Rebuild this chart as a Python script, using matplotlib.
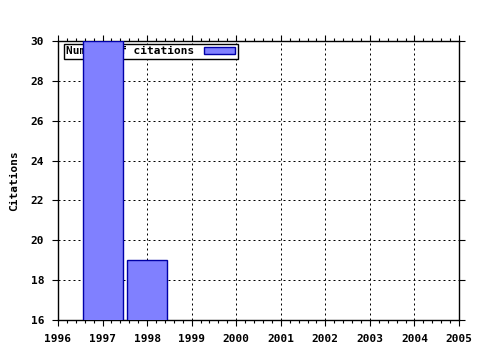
import matplotlib
matplotlib.use("Agg")
import matplotlib.pyplot as plt
from matplotlib.ticker import MultipleLocator

# chart data
years = [1997, 1998]
citations = [30, 19]
series_label = "Number of citations"
x_range = (1996, 2005)
y_range = (16, 30)
y_label = "Citations"

bar_fill = "#8080ff"
bar_edge = "#0000a8"

plt.rcParams["font.family"] = ["DejaVu Sans Mono"]
plt.rcParams["font.weight"] = "bold"
plt.rcParams["font.size"] = 8

fig = plt.figure(figsize=(4.8, 3.5), dpi=100)
ax = fig.add_axes([58 / 480, 1 - 320 / 350, (459 - 58) / 480, (320 - 41) / 350])

ax.bar(years, citations, width=0.9, color=bar_fill, edgecolor=bar_edge,
       linewidth=1.0, label=series_label, zorder=3)

ax.set_xlim(*x_range)
ax.set_ylim(*y_range)
ax.xaxis.set_major_locator(MultipleLocator(1))
ax.xaxis.set_minor_locator(MultipleLocator(0.2))
ax.yaxis.set_major_locator(MultipleLocator(2))

ax.tick_params(which="both", direction="out", top=True, right=True, width=0.8)
ax.tick_params(which="major", length=4)
ax.tick_params(which="minor", length=2)
ax.tick_params(axis="x", which="major", pad=6)
ax.tick_params(axis="y", which="major", pad=6)
ax.set_xticks(range(x_range[0], x_range[1] + 1))
ax.set_xticklabels([str(y) for y in range(x_range[0], x_range[1] + 1)], fontweight="bold")

for spine in ax.spines.values():
    spine.set_linewidth(1.0)
    spine.set_color("black")

ax.set_axisbelow(True)
ax.grid(True, which="major", color="black", linestyle=(0, (2, 3)), linewidth=0.72)

ax.set_ylabel(y_label, fontweight="bold", labelpad=8)

leg = ax.legend(loc="upper left", bbox_to_anchor=(6 / 401, 1 - 3 / 279),
                markerfirst=False, fancybox=False,
                framealpha=1, edgecolor="black", borderpad=0.22,
                handlelength=2.8, handleheight=0.6, handletextpad=0.85,
                borderaxespad=0, prop={"weight": "bold", "size": 8})
leg.get_frame().set_linewidth(1.0)
leg.set_zorder(2)

fig.savefig("out.png", dpi=100)
